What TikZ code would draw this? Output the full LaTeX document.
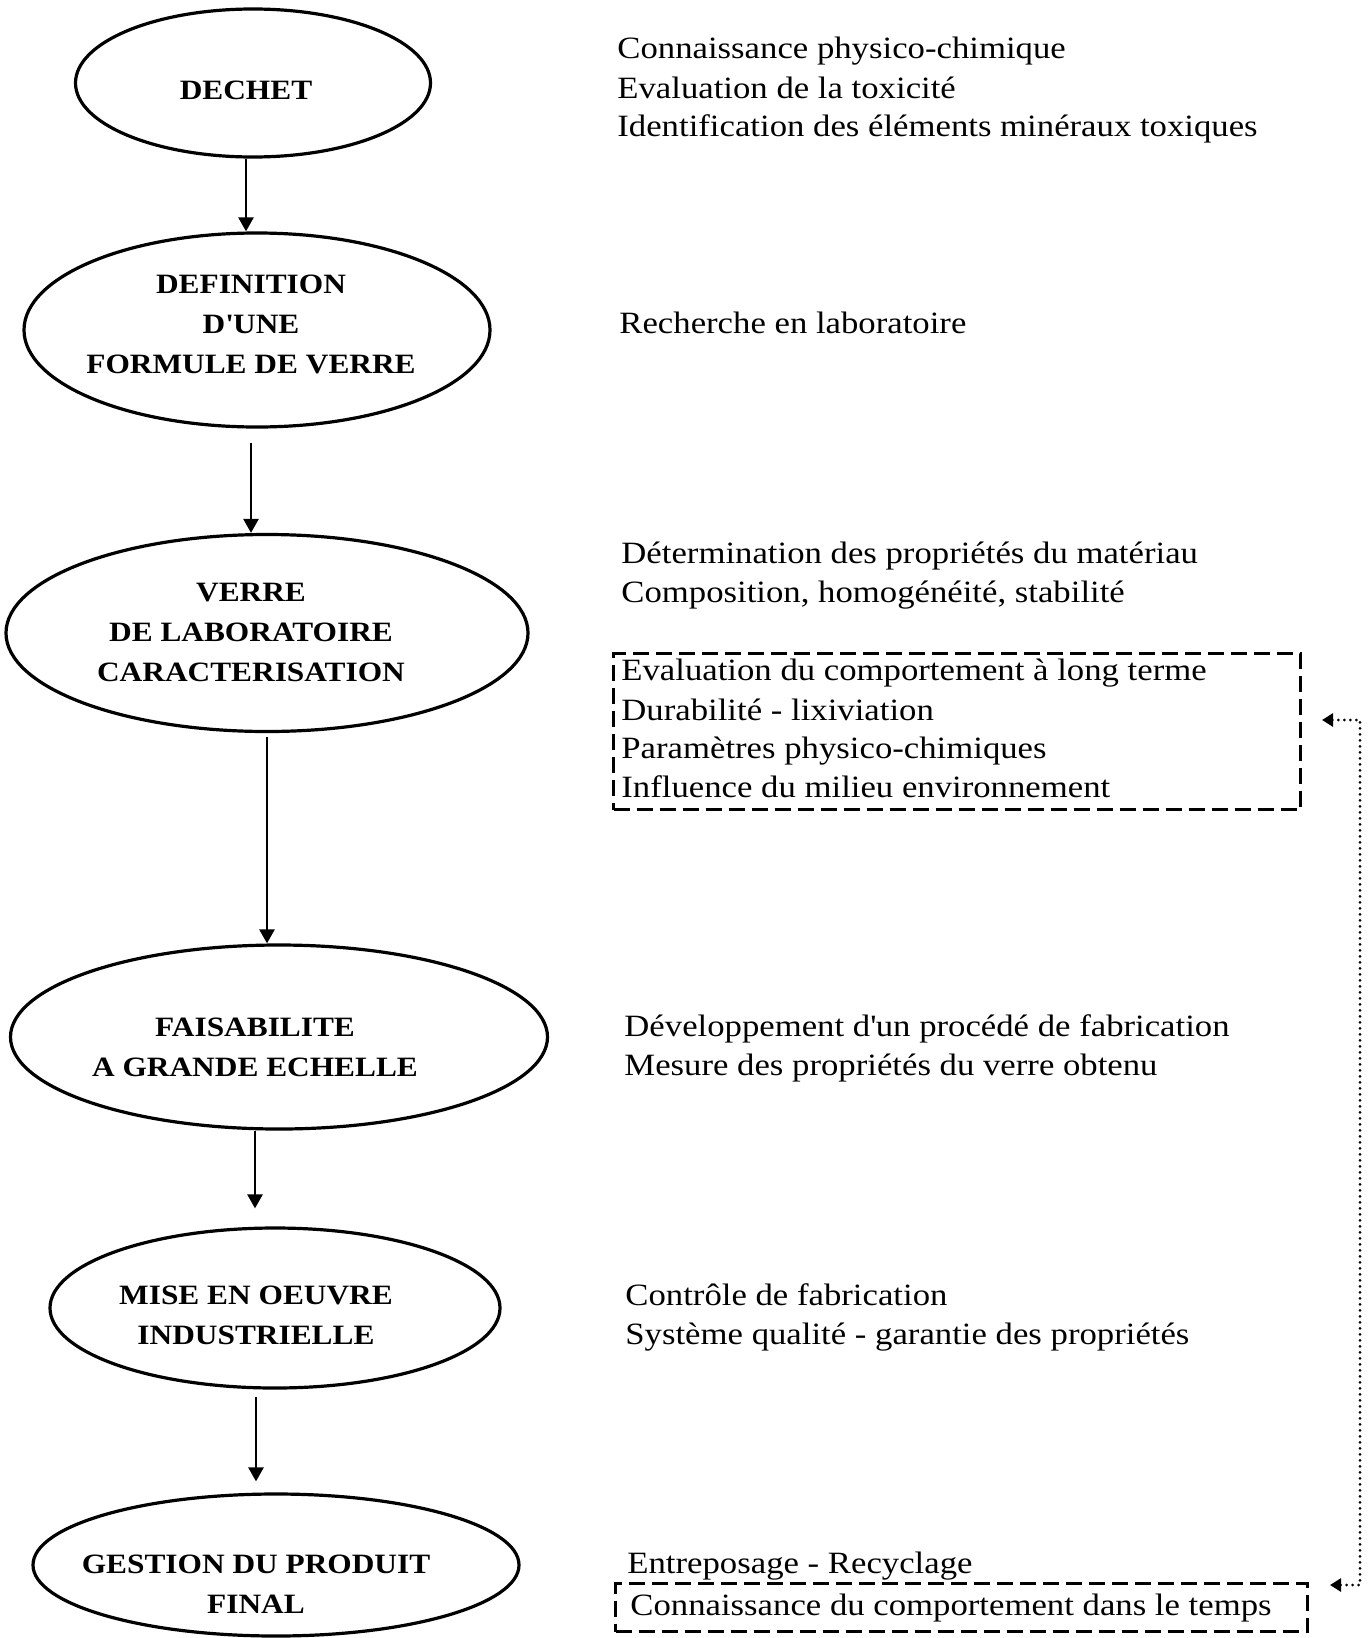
\documentclass[tikz,border=0pt]{standalone}
\usepackage{fontspec}
\setmainfont{Liberation Serif}[FakeStretch=1.12]
\usetikzlibrary{shapes.geometric,arrows.meta}
\begin{document}
\begin{tikzpicture}[x=0.5pt,y=-0.5pt,
  oval/.style={ellipse,draw,line width=1.6pt,inner sep=0pt},
  title/.style={align=center,inner sep=0pt,font=\fontsize{14}{20}\selectfont\bfseries},
  txt/.style={anchor=base west,inner sep=0pt,font=\fontsize{15.5}{19}\selectfont},
  dbox/.style={draw,dash pattern=on 8pt off 3.5pt,line width=1.6pt,inner sep=0pt,anchor=north west},
  arr/.style={line width=1.2pt,-{Triangle[width=7.5pt,length=7pt]}},
  dotline/.style={line width=1.5pt,dash pattern=on 0pt off 3pt,line cap=round,{Triangle[width=6.5pt,length=5.5pt]}-{Triangle[width=6.5pt,length=5.5pt]}}
]
\useasboundingbox (0,0) rectangle (1370,1638);

% ellipses
\node[oval,minimum width=177.5pt,minimum height=74pt] (dechet) at (253,83) {};
\node[title] (dechetT) at (246,90) {DECHET};
\node[oval,minimum width=233pt,minimum height=97pt] (def) at (257,330) {};
\node[title] (defT) at (251,324) {DEFINITION\\D\textquotesingle UNE\\FORMULE DE VERRE};
\node[oval,minimum width=261pt,minimum height=98.5pt] (verre) at (267,633) {};
\node[title] (verreT) at (251,632) {VERRE\\DE LABORATOIRE\\CARACTERISATION};
\node[oval,minimum width=268.5pt,minimum height=92pt] (fais) at (279,1037) {};
\node[title] (faisT) at (255,1047) {FAISABILITE\\A GRANDE ECHELLE};
\node[oval,minimum width=225pt,minimum height=80pt] (mise) at (275,1308) {};
\node[title] (miseT) at (256,1315) {MISE EN OEUVRE\\INDUSTRIELLE};
\node[oval,minimum width=243pt,minimum height=71pt] (gestion) at (276,1565) {};
\node[title] (gestionT) at (256,1584) {GESTION DU PRODUIT\\FINAL};

% arrows
\draw[arr] (dechet.south -| dechetT) -- (def.north -| dechetT);
\draw[arr,shorten <=7pt] (def.south -| defT) -- (verre.north -| defT);
\draw[arr,shorten <=2pt] (verre.south) -- (verre.south |- fais.north);
\draw[arr,shorten >=9pt] (fais.south -| faisT) -- (mise.north -| faisT);
\draw[arr,shorten <=3.5pt,shorten >=5.5pt] (mise.south -| miseT) -- (gestion.north -| miseT);

% right texts
\node[txt] (c1) at (617,58) {Connaissance physico-chimique};
\node[txt] (c2) at (617,98) {Evaluation de la toxicité};
\node[txt] (c3) at (617,136) {Identification des éléments minéraux toxiques};
\node[txt] (r1) at (619,333) {Recherche en laboratoire};
\node[txt] (d1) at (621,563) {Détermination des propriétés du matériau};
\node[txt] (d2) at (621,602) {Composition, homogénéité, stabilité};
\node[dbox,minimum width=343.5pt,minimum height=78pt] (box1) at (612,652) {};
\node[txt] (e1) at (621,680) {Evaluation du comportement à long terme};
\node[txt] (e2) at (621,720) {Durabilité - lixiviation};
\node[txt] (e3) at (621,758) {Paramètres physico-chimiques};
\node[txt] (e4) at (621,797) {Influence du milieu environnement};
\node[txt] (f1) at (624,1036) {Développement d\textquotesingle un procédé de fabrication};
\node[txt] (f2) at (624,1075) {Mesure des propriétés du verre obtenu};
\node[txt] (g1) at (625,1305) {Contrôle de fabrication};
\node[txt] (g2) at (625,1344) {Système qualité - garantie des propriétés};
\node[txt] (h1) at (627,1573) {Entreposage - Recyclage};
\node[dbox,minimum width=346pt,minimum height=24pt] (box2) at (614,1582) {};
\node[txt] (h2) at (630,1615) {Connaissance du comportement dans le temps};

% dotted feedback connector
\coordinate (t1) at (1322,720);
\coordinate (t2) at (1330,1585);
\coordinate (rail) at (1360,1150);
\draw[dotline] (t1) -| (rail) |- (t2);
\end{tikzpicture}
\end{document}
